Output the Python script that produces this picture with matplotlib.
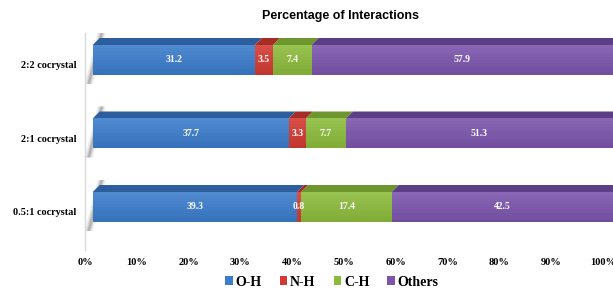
import matplotlib
matplotlib.use("Agg")
import matplotlib.pyplot as plt
from matplotlib.patches import Polygon, Patch
from matplotlib.transforms import ScaledTranslation
from matplotlib.colors import to_rgb
import numpy as np

# ---- data ----
categories = ["0.5:1 cocrystal", "2:1 cocrystal", "2:2 cocrystal"]
series_names = ["O-H", "N-H", "C-H", "Others"]
oh = [39.3, 37.7, 31.2]
nh = [0.8, 3.3, 3.5]
ch = [17.4, 7.7, 7.4]
others = [42.5, 51.3, 57.9]
xticks = list(range(0, 101, 10))
xticklabels = [f"{t}%" for t in xticks]
title = "Percentage of Interactions"

front_colors = ["#3B7CCB", "#D23B33", "#8CBB3C", "#7B55AC"]
top_colors = ["#2C5E9E", "#A52C27", "#6E962F", "#5C3E86"]

SERIF = "Liberation Serif"
SANS = "Liberation Sans"

W, H, DPI = 613, 290, 100
fig = plt.figure(figsize=(W / DPI, H / DPI), dpi=DPI)
left_px, right_px, top_px, bot_px = 85, 603, 33, 250
ax = fig.add_axes([left_px / W, 1 - bot_px / H, (right_px - left_px) / W, (bot_px - top_px) / H])

step_px = 73.5
y0_from_bottom = H - 207
ylo = -(y0_from_bottom - (H - bot_px)) / step_px
yhi = 2 + ((H - top_px) - (y0_from_bottom + 2 * step_px)) / step_px
ax.set_xlim(0, 100)
ax.set_ylim(ylo, yhi)

ppx = (right_px - left_px) / 100.0
ppy = step_px
bar_h = 30 / ppy
dxd = 7 / ppx
dyd = 7 / ppy

front_tr = ax.transData + ScaledTranslation(7.7 / DPI, 0, fig.dpi_scale_trans)
bar_scale = 5.2 / ppx  # front faces are drawn at 5.2 px per percent


def mix(c, t, f):
    c = np.array(to_rgb(c)); t = np.array(to_rgb(t))
    return tuple(c + (t - c) * f)


series = [oh, nh, ch, others]
ypos = np.arange(len(categories))
left = np.zeros(len(categories))

# shadows
for i, yc in enumerate(ypos):
    yb = yc - bar_h / 2
    yt = yc + bar_h / 2
    for wpx, alpha in [(8, 0.10), (5, 0.16), (2.5, 0.25)]:
        wd = wpx / ppx
        pts = [(-4 / ppx - wd / 2, yb - 9 / ppy), (-4 / ppx + wd / 2, yb - 9 / ppy),
               (9 / ppx + wd / 2, yt + 12 / ppy), (9 / ppx - wd / 2, yt + 12 / ppy)]
        ax.add_patch(Polygon(pts, closed=True, facecolor="#555555", edgecolor="none",
                             alpha=alpha, transform=front_tr, clip_on=False, zorder=1))

nstrip = 10
for s, vals in enumerate(series):
    vals = np.array(vals)
    for i, yc in enumerate(ypos):
        l = left[i] * bar_scale; w = vals[i] * bar_scale
        for k in range(nstrip):
            f = k / (nstrip - 1)
            col = mix(mix(front_colors[s], "black", 0.08), mix(front_colors[s], "white", 0.10), f)
            yb = yc - bar_h / 2 + k * bar_h / nstrip
            ax.barh(yb, w, height=bar_h / nstrip + 0.002, left=l, align="edge",
                    color=col, edgecolor="none", transform=front_tr, clip_on=False, zorder=3)
        yt = yc + bar_h / 2
        pts = [(l, yt), (l + w, yt), (l + w + dxd, yt + dyd), (l + dxd, yt + dyd)]
        ax.add_patch(Polygon(pts, closed=True, facecolor=top_colors[s], edgecolor="none",
                             transform=front_tr, clip_on=False, zorder=2))
        ax.text(l + w / 2, yc, f"{vals[i]:.1f}", transform=front_tr, ha="center", va="center",
                color="white", fontsize=7, fontweight="bold", family=SERIF, zorder=5)
    left = left + vals

for sp in ["top", "right", "bottom"]:
    ax.spines[sp].set_visible(False)
ax.spines["left"].set_color("#D9D9D9")
ax.spines["left"].set_linewidth(1.0)
ax.set_xticks(xticks, xticklabels)
ax.set_yticks(ypos, categories)
ax.tick_params(axis="both", length=0)
ax.tick_params(axis="x", pad=6)
ax.tick_params(axis="y", pad=6)
for lab in ax.get_xticklabels():
    lab.set_fontfamily(SERIF); lab.set_fontweight("bold"); lab.set_fontsize(7.5)
for lab in ax.get_yticklabels():
    lab.set_fontfamily(SERIF); lab.set_fontweight("bold"); lab.set_fontsize(7.4)
    lab.set_transform(lab.get_transform() + ScaledTranslation(0, -5 / DPI, fig.dpi_scale_trans))
ax.patch.set_visible(False)

fig.text(340 / W, 1 - 16 / H, title, ha="center", va="center", fontsize=9,
         fontweight="bold", family=SANS)

handles = [Patch(facecolor=c, edgecolor="none") for c in front_colors]
leg = fig.legend(handles, series_names, loc="center", bbox_to_anchor=(332 / W, 1 - 282 / H),
                 ncol=4, frameon=False, handlelength=0.55, handleheight=0.55,
                 handletextpad=0.2, columnspacing=1.3,
                 prop={"family": SERIF, "weight": "bold", "size": 10})

fig.savefig("out.png", dpi=DPI)
